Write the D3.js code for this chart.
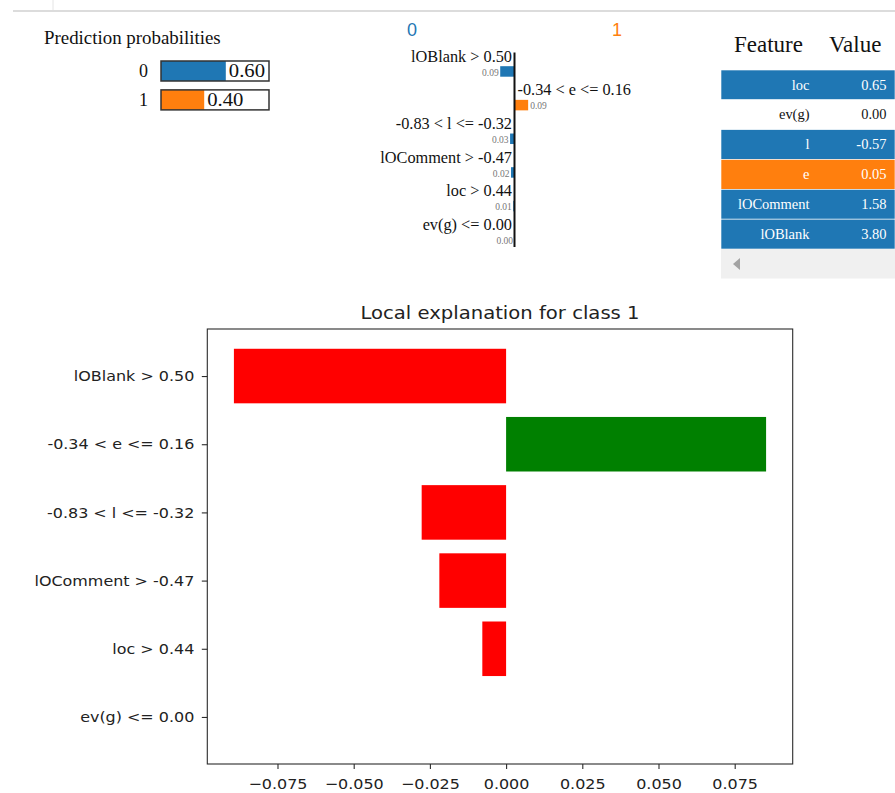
<!DOCTYPE html>
<html>
<head>
<meta charset="utf-8">
<script src="https://cdn.jsdelivr.net/npm/d3@7"></script>
<style>
  body { margin: 0; background: #fff; }
  svg { display: block; }
</style>
</head>
<body>
<svg id="c" width="895" height="793"></svg>
<script>
// ---- data ----
const classNames = ["0", "1"];
const classProbs = [0.60, 0.40];

const features = [
  "lOBlank > 0.50",
  "-0.34 < e <= 0.16",
  "-0.83 < l <= -0.32",
  "lOComment > -0.47",
  "loc > 0.44",
  "ev(g) <= 0.00"
];
const weights = [-0.0893, 0.0853, -0.0277, -0.0219, -0.0078, 0.0];

const tableFeatures = ["loc", "ev(g)", "l", "e", "lOComment", "lOBlank"];
const tableValues = [0.65, 0.00, -0.57, 0.05, 1.58, 3.80];
const tableWeights = [-0.0078, 0.0, -0.0277, 0.0853, -0.0219, -0.0893];

const xTicks = [-0.075, -0.05, -0.025, 0, 0.025, 0.05, 0.075];
const chartTitle = "Local explanation for class 1";

// ---- styles ----
const BLUE = "#1f77b4", ORANGE = "#ff7f0e";
const SERIF = "'Liberation Serif', 'Times New Roman', serif";
const SANS = "'Liberation Sans', Arial, sans-serif";
const MPL = "'DejaVu Sans', sans-serif";

const svg = d3.select("#c");

// place a text element at (x, y) with a horizontal stretch about its anchor
function stretchedText(parent, x, y, sx) {
  return parent.append("text").attr("transform", `translate(${x},${y}) scale(${sx},1)`);
}
function stretchTicks(axisSel, sx) {
  axisSel.selectAll(".tick text").each(function () {
    const t = d3.select(this);
    const tx = +t.attr("x") || 0;
    const ty = +t.attr("y") || 0;
    t.attr("x", 0).attr("y", 0).attr("transform", `translate(${tx},${ty}) scale(${sx},1)`);
  });
}

// notebook cell border
svg.append("line").attr("x1", 13).attr("x2", 895).attr("y1", 11).attr("y2", 11)
  .attr("stroke", "#dcdcdc").attr("stroke-width", 2);
svg.append("line").attr("x1", 53).attr("x2", 53).attr("y1", 0).attr("y2", 10)
  .attr("stroke", "#e4e4e4").attr("stroke-width", 1);

// ---- prediction probabilities ----
const pp = svg.append("g");
stretchedText(pp, 44, 43.5, 1.05)
  .attr("font-family", SERIF).attr("font-size", 18).attr("fill", "#111")
  .text("Prediction probabilities");

const probX = d3.scaleLinear().domain([0, 1]).range([0, 108]);
const probY = d3.scaleBand().domain(classNames).range([60, 112]).paddingInner(0.2);
const probColors = [BLUE, ORANGE];

classNames.forEach((c, i) => {
  const y = probY(c), h = 20;
  pp.append("rect").attr("x", 161).attr("y", y + 1).attr("width", probX(classProbs[i]))
    .attr("height", h).attr("fill", probColors[i]);
  pp.append("rect").attr("x", 161).attr("y", y + 1).attr("width", probX(1))
    .attr("height", h).attr("fill", "none").attr("stroke", "#333").attr("stroke-width", 1.5);
  pp.append("text").attr("x", 148).attr("y", y + 17).attr("text-anchor", "end")
    .attr("font-family", SERIF).attr("font-size", 18).attr("fill", "#111").text(c);
  stretchedText(pp, 161 + probX(classProbs[i]) + 3, y + 17, 1.15)
    .attr("font-family", SERIF).attr("font-size", 18).attr("fill", "#111")
    .text(classProbs[i].toFixed(2));
});

// ---- explanation bars (class 0 left / class 1 right) ----
const ex = svg.append("g");
const axisX = 514.5;
ex.append("text").attr("x", 412).attr("y", 36).attr("text-anchor", "middle")
  .attr("font-family", SANS).attr("font-size", 18).attr("fill", BLUE).text(classNames[0]);
ex.append("text").attr("x", 617).attr("y", 36).attr("text-anchor", "middle")
  .attr("font-family", SANS).attr("font-size", 18).attr("fill", ORANGE).text(classNames[1]);

const wX = d3.scaleLinear().domain([0, 1]).range([0, 160]);
const rowY = d3.scaleLinear().domain([0, features.length - 1]).range([61.7, 230]);

features.forEach((f, i) => {
  const w = weights[i];
  const pos = w > 0;
  const base = rowY(i);
  const barTop = base + 4.5;
  const bw = wX(Math.abs(w));
  ex.append("text")
    .attr("x", pos ? axisX + 3 : axisX - 2.5).attr("y", base)
    .attr("text-anchor", pos ? "start" : "end")
    .attr("font-family", SERIF).attr("font-size", 16.3).attr("fill", "#111")
    .text(f);
  ex.append("rect")
    .attr("x", pos ? axisX : axisX - bw).attr("y", barTop)
    .attr("width", bw).attr("height", 10.5)
    .attr("fill", pos ? ORANGE : BLUE);
  ex.append("text")
    .attr("x", pos ? axisX + bw + 2 : axisX - bw - 1.5).attr("y", barTop + 9.5)
    .attr("text-anchor", pos ? "start" : "end")
    .attr("font-family", SERIF).attr("font-size", 9.5).attr("fill", "#777")
    .text(Math.abs(w).toFixed(2));
});
ex.append("line").attr("x1", axisX).attr("x2", axisX).attr("y1", 52.5).attr("y2", 247)
  .attr("stroke", "#111").attr("stroke-width", 2);

// ---- feature / value table ----
const tb = svg.append("g");
tb.append("text").attr("x", 734).attr("y", 51.7)
  .attr("font-family", SERIF).attr("font-size", 23).attr("fill", "#111").text("Feature");
tb.append("text").attr("x", 829).attr("y", 51.7)
  .attr("font-family", SERIF).attr("font-size", 23).attr("fill", "#111").text("Value");

const tRow = d3.scaleBand().domain(tableFeatures).range([70, 249]);
tableFeatures.forEach((f, i) => {
  const y = tRow(f), h = tRow.bandwidth();
  const w = tableWeights[i];
  const fill = w > 0 ? ORANGE : (w < 0 ? BLUE : "#fff");
  const tc = w === 0 ? "#111" : "#fff";
  tb.append("rect").attr("x", 721).attr("y", y).attr("width", 174).attr("height", h)
    .attr("fill", fill).attr("stroke", "#fff").attr("stroke-width", 0.6);
  stretchedText(tb, 809.5, y + 19.5, 1.05).attr("text-anchor", "end")
    .attr("font-family", SERIF).attr("font-size", 13.8).attr("fill", tc).text(f);
  stretchedText(tb, 886.5, y + 19.5, 1.05).attr("text-anchor", "end")
    .attr("font-family", SERIF).attr("font-size", 13.8).attr("fill", tc)
    .text(tableValues[i].toFixed(2));
});
// horizontal scrollbar strip
tb.append("rect").attr("x", 721).attr("y", 249).attr("width", 174).attr("height", 29.5)
  .attr("fill", "#f0f0f0");
tb.append("path").attr("d", "M733,264 L740,258 L740,270 Z").attr("fill", "#a3a3a3");

// ---- matplotlib-style horizontal bar chart ----
const L = 207.3, R = 792.7, T = 329, B = 764;
const g = svg.append("g");

const wMin = Math.min(0, d3.min(weights)), wMax = Math.max(0, d3.max(weights));
const pad = (wMax - wMin) * 0.05;
const x = d3.scaleLinear().domain([wMin - pad, wMax + pad]).range([L, R]);

const n = features.length, barH = 0.8;
const yLo = -barH / 2, yHi = n - 1 + barH / 2, yPad = (yHi - yLo) * 0.05;
const y = d3.scaleLinear().domain([yLo - yPad, yHi + yPad]).range([B, T]);
const posOf = i => n - 1 - i; // first feature at top

features.forEach((f, i) => {
  const w = weights[i];
  g.append("rect")
    .attr("x", x(Math.min(0, w))).attr("width", Math.abs(x(w) - x(0)))
    .attr("y", y(posOf(i) + barH / 2)).attr("height", y(posOf(i) - barH / 2) - y(posOf(i) + barH / 2))
    .attr("fill", w > 0 ? "green" : "red");
});

// frame
g.append("rect").attr("x", L).attr("y", T).attr("width", R - L).attr("height", B - T)
  .attr("fill", "none").attr("stroke", "#2b2b2b").attr("stroke-width", 1.1);

const xAxis = g.append("g").attr("transform", `translate(0,${B})`)
  .call(d3.axisBottom(x).tickValues(xTicks).tickFormat(d3.format(".3f"))
    .tickSize(5).tickPadding(10).tickSizeOuter(0));
const yAxis = g.append("g").attr("transform", `translate(${L},0)`)
  .call(d3.axisLeft(y).tickValues(features.map((f, i) => posOf(i)))
    .tickFormat(v => features[n - 1 - v]).tickSize(5.5).tickPadding(7.5).tickSizeOuter(0));

[xAxis, yAxis].forEach(a => {
  a.select(".domain").remove();
  a.selectAll(".tick line").attr("stroke", "#2b2b2b").attr("stroke-width", 1.1);
  a.selectAll(".tick text").attr("font-family", MPL).attr("font-size", 14.5).attr("fill", "#222");
  stretchTicks(a, 1.1);
});

stretchedText(g, (L + R) / 2, 319, 1.09).attr("text-anchor", "middle")
  .attr("font-family", MPL).attr("font-size", 18).attr("fill", "#222").text(chartTitle);
</script>
</body>
</html>
